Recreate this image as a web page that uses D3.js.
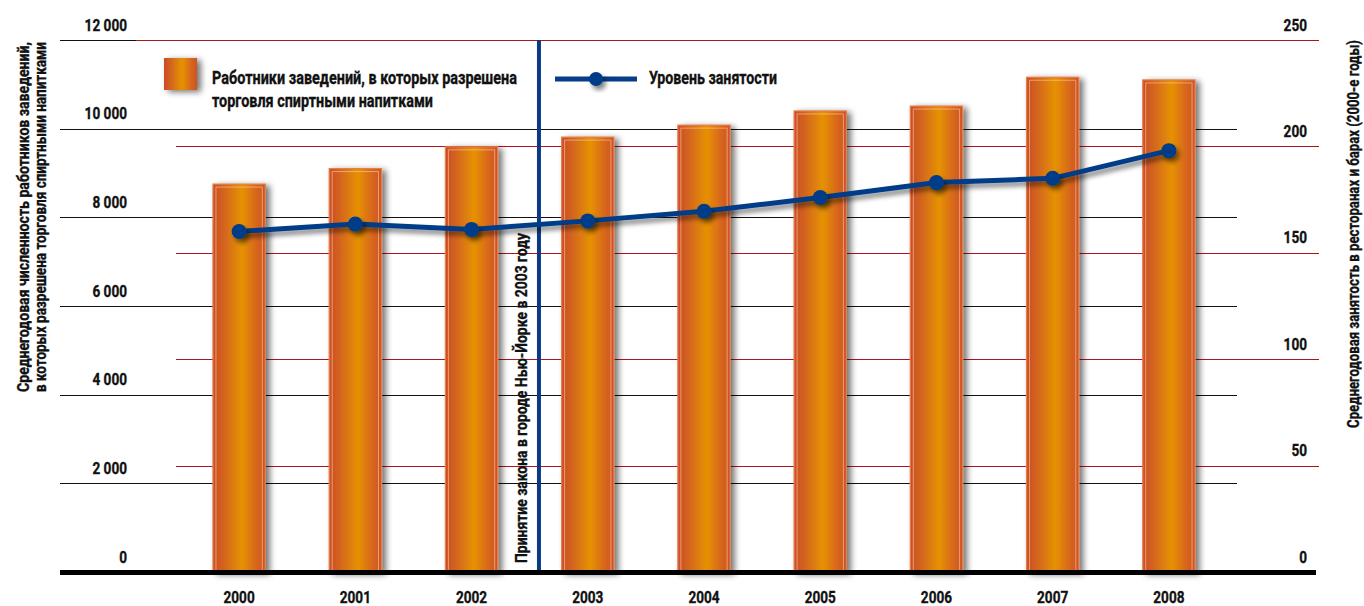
<!DOCTYPE html>
<html><head><meta charset="utf-8">
<script src="https://cdn.jsdelivr.net/npm/d3@7"></script>
<style>
html,body{margin:0;padding:0;background:#fff;}
svg{display:block;font-family:Roboto,"Liberation Sans",sans-serif;font-weight:bold;}
svg text{stroke:#111;stroke-width:0.35px;}
</style></head><body>
<svg id="chart" width="1364" height="606"></svg>
<script>
// Data
const years = ["2000","2001","2002","2003","2004","2005","2006","2007","2008"];
const workers = [8750, 9100, 9590, 9810, 10080, 10400, 10510, 11160, 11100];
const employment = [160, 163.5, 161, 165, 169.5, 176, 183, 185, 198];
const leftTicks = [0, 2000, 4000, 6000, 8000, 10000, 12000];
const rightTicks = [0, 50, 100, 150, 200, 250];
const lawYear = "2003";

const texts = {
  leftTitle: ["Среднегодовая численность работников заведений,", "в которых разрешена торговля спиртными напитками"],
  rightTitle: "Среднегодовая занятость в ресторанах и барах (2000-е годы)",
  barLegend: ["Работники заведений, в которых разрешена", "торговля спиртными напитками"],
  lineLegend: "Уровень занятости",
  law: "Принятие закона в городе Нью-Йорке в 2003 году"
};

const svg = d3.select("#chart");
const W = 1364, H = 606;
const plotTop = 40, base = 572;
const INK = "#111";

const x = d3.scaleBand().domain(years).range([181, 1227]).paddingInner(0.55).paddingOuter(0.275);
const yL = d3.scaleLinear().domain([0, 12000]).range([base, plotTop]);
const yR = d3.scaleLinear().domain([0, 250]).range([base, plotTop]);

const fmt = d3.formatLocale({decimal: ",", thousands: "\u00a0", grouping: [3], currency: ["", ""]}).format(",");

// Squeeze glyphs horizontally to get a condensed bold face
function condense(sel, k = 0.8) {
  sel.each(function () {
    const len = this.getComputedTextLength();
    this.setAttribute("textLength", (len * k).toFixed(1));
    this.setAttribute("lengthAdjust", "spacingAndGlyphs");
  });
}
// Set a fixed run length for longer captions
function fit(sel, width) {
  sel.attr("textLength", width).attr("lengthAdjust", "spacingAndGlyphs").classed("fitted", true);
  return sel;
}

const defs = svg.append("defs");
const grad = defs.append("linearGradient").attr("id", "barGrad").attr("x1", 0).attr("x2", 1).attr("y1", 0).attr("y2", 0);
grad.append("stop").attr("offset", 0).attr("stop-color", "#cb4c28");
grad.append("stop").attr("offset", 0.25).attr("stop-color", "#d56a1c");
grad.append("stop").attr("offset", 0.55).attr("stop-color", "#e69202");
grad.append("stop").attr("offset", 0.8).attr("stop-color", "#d96a1a");
grad.append("stop").attr("offset", 1).attr("stop-color", "#cd5226");

function shadow(id, dx, dy, sd, op) {
  const f = defs.append("filter").attr("id", id).attr("x", "-50%").attr("y", "-50%").attr("width", "200%").attr("height", "200%");
  f.append("feGaussianBlur").attr("in", "SourceAlpha").attr("stdDeviation", sd).attr("result", "b");
  f.append("feOffset").attr("in", "b").attr("dx", dx).attr("dy", dy).attr("result", "o");
  f.append("feComponentTransfer").attr("in", "o").attr("result", "s")
    .append("feFuncA").attr("type", "linear").attr("slope", op);
  const m = f.append("feMerge");
  m.append("feMergeNode").attr("in", "s");
  m.append("feMergeNode").attr("in", "SourceGraphic");
}
shadow("barShadow", 4, 2, 3, 0.55);
shadow("dotShadow", 3, 4, 2.5, 0.5);

svg.append("rect").attr("width", W).attr("height", H).attr("fill", "#fff");

// Grid lines: black for the left scale, red for the right scale
svg.append("g").selectAll("line").data(leftTicks.filter(d => d > 0)).join("line")
  .attr("x1", 60).attr("x2", 1237)
  .attr("y1", d => Math.round(yL(d)) + 0.5).attr("y2", d => Math.round(yL(d)) + 0.5)
  .attr("stroke", INK).attr("stroke-width", 1.2);
svg.append("g").selectAll("line").data(rightTicks.filter(d => d > 0)).join("line")
  .attr("x1", d => d === 250 ? 136 : 176).attr("x2", 1319)
  .attr("y1", d => Math.round(yR(d)) + 0.5).attr("y2", d => Math.round(yR(d)) + 0.5)
  .attr("stroke", "#b3111c").attr("stroke-width", 1.2);

// Bars
const bw = x.bandwidth();
const bars = svg.append("g").selectAll("g").data(years).join("g");
bars.append("rect")
  .attr("x", d => x(d)).attr("y", (d, i) => yL(workers[i]))
  .attr("width", bw).attr("height", (d, i) => base - yL(workers[i]))
  .attr("fill", "url(#barGrad)").attr("stroke", "#e4804c").attr("stroke-width", 1.2)
  .attr("filter", "url(#barShadow)");
bars.append("rect")
  .attr("x", d => x(d) + 3).attr("y", (d, i) => yL(workers[i]) + 3)
  .attr("width", bw - 6).attr("height", (d, i) => base - yL(workers[i]) - 3)
  .attr("fill", "none").attr("stroke", "rgba(255,205,160,0.6)").attr("stroke-width", 1);

// Baseline
svg.append("line").attr("x1", 60).attr("x2", 1316).attr("y1", base + 0.5).attr("y2", base + 0.5)
  .attr("stroke", "#000").attr("stroke-width", 5);

// Law marker between 2002 and 2003
const lawX = x(lawYear) + bw / 2 - x.step() * 0.42;
svg.append("line").attr("x1", lawX).attr("x2", lawX).attr("y1", plotTop).attr("y2", base - 2)
  .attr("stroke", "#0a3a86").attr("stroke-width", 4);
fit(svg.append("text").attr("transform", `translate(${lawX - 12},${base - 9}) rotate(-90)`)
  .attr("font-size", 16.5).attr("fill", INK).text(texts.law), 330);

// Employment line
const cx = d => x(d) + bw / 2;
svg.append("path").datum(years)
  .attr("d", d3.line().x(cx).y((d, i) => yR(employment[i])))
  .attr("fill", "none").attr("stroke", "#063c88").attr("stroke-width", 5)
  .attr("stroke-linejoin", "round").attr("filter", "url(#dotShadow)");
svg.append("g").selectAll("circle").data(years).join("circle")
  .attr("cx", cx).attr("cy", (d, i) => yR(employment[i])).attr("r", 7.5)
  .attr("fill", "#063c88").attr("filter", "url(#dotShadow)");

// Axes
const axL = svg.append("g").attr("transform", "translate(127,0)")
  .call(d3.axisLeft(yL).tickValues(leftTicks).tickSize(0).tickPadding(0).tickFormat(fmt));
const axR = svg.append("g").attr("transform", "translate(1307,0)")
  .call(d3.axisLeft(yR).tickValues(rightTicks).tickSize(0).tickPadding(0));
const axX = svg.append("g").attr("transform", `translate(0,${base})`)
  .call(d3.axisBottom(x).tickSize(0).tickPadding(19));
[axL, axR, axX].forEach(a => {
  a.attr("font-family", null).attr("font-size", null);
  a.select(".domain").remove();
  a.selectAll("text").attr("font-size", 17).attr("font-weight", "bold").attr("fill", INK);
});
axL.selectAll("text").attr("dy", -10);
axR.selectAll("text").attr("dy", -10);
axX.selectAll("text").attr("dy", "0.71em");

// Axis titles
const titles = svg.append("g").attr("fill", INK).attr("text-anchor", "middle");
fit(titles.append("text").attr("font-size", 16.5).attr("transform", "translate(29,217) rotate(-90)").text(texts.leftTitle[0]), 350);
fit(titles.append("text").attr("font-size", 16.5).attr("transform", "translate(46,217) rotate(-90)").text(texts.leftTitle[1]), 350);
fit(titles.append("text").attr("font-size", 16).attr("transform", "translate(1358.5,234) rotate(-90)").text(texts.rightTitle), 388);

// Legend
const lg = svg.append("g").attr("font-size", 17.5).attr("fill", INK);
lg.append("rect").attr("x", 164).attr("y", 58).attr("width", 33).attr("height", 32)
  .attr("fill", "url(#barGrad)").attr("filter", "url(#barShadow)");
fit(lg.append("text").attr("x", 212).attr("y", 84).text(texts.barLegend[0]), 305);
fit(lg.append("text").attr("x", 212).attr("y", 107).text(texts.barLegend[1]), 221);
lg.append("line").attr("x1", 555).attr("x2", 637).attr("y1", 79).attr("y2", 79)
  .attr("stroke", "#063c88").attr("stroke-width", 5);
lg.append("circle").attr("cx", 596).attr("cy", 79).attr("r", 7).attr("fill", "#063c88").attr("filter", "url(#dotShadow)");
fit(lg.append("text").attr("x", 649).attr("y", 84).text(texts.lineLegend), 128);

condense(svg.selectAll("text:not(.fitted)"), 0.8);
</script>
</body></html>
